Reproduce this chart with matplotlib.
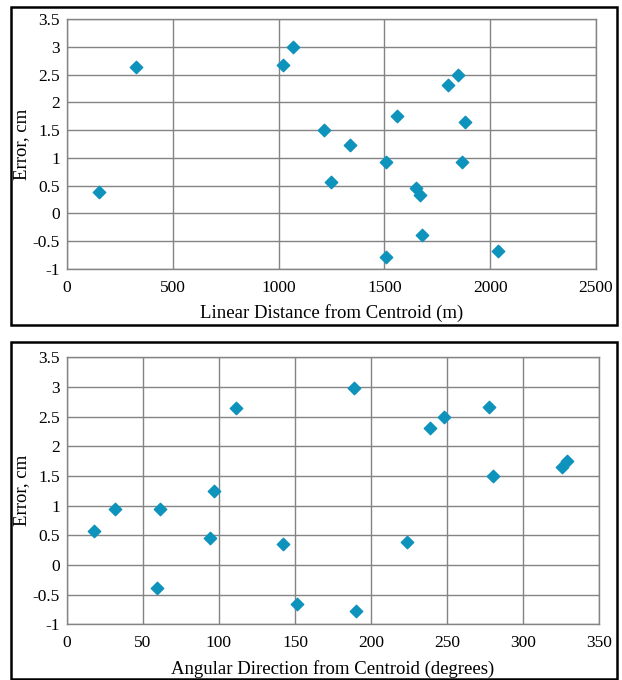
import matplotlib
matplotlib.use("Agg")
import matplotlib.pyplot as plt
from matplotlib.patches import Rectangle

# data
dist_m = [151, 326, 1022, 1070, 1215, 1337, 1246, 1506, 1558, 1799,
          1846, 1879, 1868, 1648, 1668, 1679, 1506, 2035]
err_dist = [0.38, 2.64, 2.67, 3.0, 1.5, 1.24, 0.56, 0.93, 1.75, 2.31,
            2.5, 1.64, 0.93, 0.46, 0.34, -0.39, -0.79, -0.67]

angle_deg = [17.9, 31.7, 61.3, 59.5, 94, 97, 111.2, 142.3, 151.1, 188.6,
             189.9, 223.4, 238.7, 248.1, 277.7, 280.1, 325.6, 328.5]
err_angle = [0.57, 0.94, 0.94, -0.38, 0.46, 1.24, 2.64, 0.35, -0.66, 2.99,
             -0.78, 0.39, 2.31, 2.5, 2.67, 1.5, 1.65, 1.75]

y_ticks = [-1, -0.5, 0, 0.5, 1, 1.5, 2, 2.5, 3, 3.5]
y_labels = ["-1", "-0.5", "0", "0.5", "1", "1.5", "2", "2.5", "3", "3.5"]
dist_ticks = [0, 500, 1000, 1500, 2000, 2500]
angle_ticks = [0, 50, 100, 150, 200, 250, 300, 350]

plt.rcParams["font.family"] = ["Liberation Serif", "DejaVu Serif"]
plt.rcParams["axes.unicode_minus"] = False

W, H = 622, 680
fig = plt.figure(figsize=(W / 100, H / 100), dpi=100)

# outer frames around each panel
fig.patches.append(Rectangle((10.5 / W, 1 - 325 / H), 606 / W, 318 / H,
                             transform=fig.transFigure, fill=False, lw=1.8, ec="black"))
fig.patches.append(Rectangle((10.5 / W, 1 - 679 / H), 606 / W, 337 / H,
                             transform=fig.transFigure, fill=False, lw=1.8, ec="black"))

marker_color = "#0e93bd"
grid_color = "#848484"


def style_axes(ax, xticks, xlabel):
    ax.set_xlim(xticks[0], xticks[-1])
    ax.set_ylim(-1, 3.5)
    ax.set_xticks(xticks)
    ax.set_xticklabels([str(t) for t in xticks])
    ax.set_yticks(y_ticks)
    ax.set_yticklabels(y_labels)
    ax.grid(True, color=grid_color, lw=1.0)
    ax.set_axisbelow(True)
    for s in ax.spines.values():
        s.set_color(grid_color)
        s.set_linewidth(1.0)
    ax.tick_params(length=0, labelsize=12.5)
    ax.tick_params(axis="x", pad=8)
    ax.tick_params(axis="y", pad=5)
    ax.set_xlabel(xlabel, fontsize=13.5, labelpad=6)
    ax.set_ylabel("Error, cm", fontsize=13.5, labelpad=2)


ax1 = fig.add_axes([67 / W, 1 - 269 / H, 529 / W, 250 / H])
ax1.scatter(dist_m, err_dist, marker="D", s=40, color=marker_color, zorder=3)
style_axes(ax1, dist_ticks, "Linear Distance from Centroid (m)")

ax2 = fig.add_axes([66.7 / W, 1 - 624.3 / H, 532.6 / W, 267 / H])
ax2.scatter(angle_deg, err_angle, marker="D", s=40, color=marker_color, zorder=3)
style_axes(ax2, angle_ticks, "Angular Direction from Centroid (degrees)")

plt.savefig("out.png", dpi=100)
plt.close()
